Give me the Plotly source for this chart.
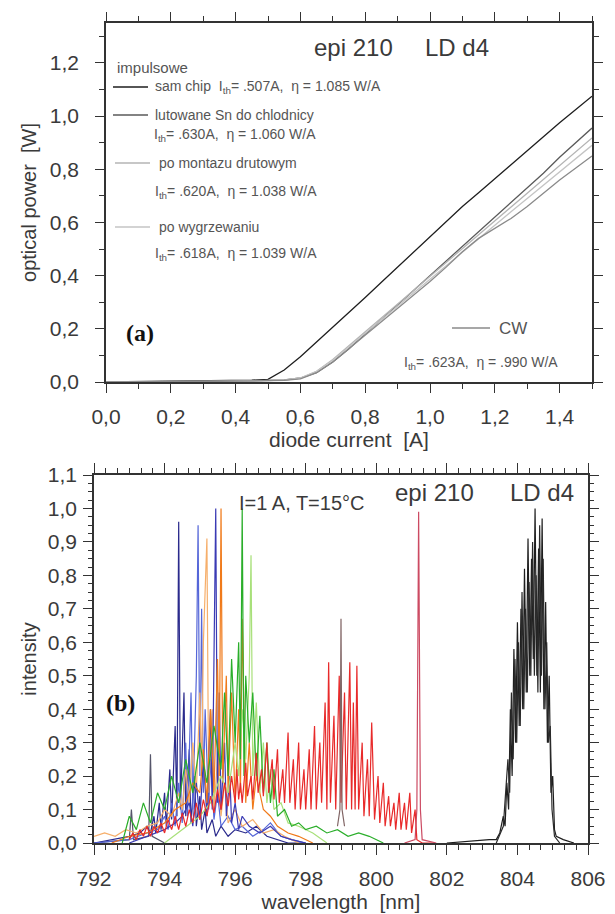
import plotly.graph_objects as go

# ---------------- DATA: panel (a) L-I curves ----------------
current_A = [0.0, 0.1, 0.2, 0.3, 0.4, 0.45, 0.5, 0.55, 0.6, 0.65, 0.7, 0.75, 0.8, 0.85,
             0.9, 0.95, 1.0, 1.05, 1.1, 1.15, 1.2, 1.25, 1.3, 1.35, 1.4, 1.45, 1.5]
p_sam_chip = [0.0, 0.001, 0.002, 0.003, 0.005, 0.007, 0.010, 0.045, 0.095, 0.150, 0.205, 0.262,
              0.318, 0.375, 0.432, 0.490, 0.548, 0.605, 0.660, 0.712, 0.765, 0.818, 0.870,
              0.922, 0.975, 1.025, 1.075]
p_lutowane = [0.0, 0.0, 0.001, 0.002, 0.003, 0.004, 0.005, 0.008, 0.015, 0.035, 0.075, 0.125,
              0.180, 0.235, 0.290, 0.345, 0.400, 0.455, 0.510, 0.565, 0.620, 0.675, 0.730,
              0.785, 0.845, 0.900, 0.955]
p_montaz = [0.0, 0.0, 0.001, 0.002, 0.003, 0.004, 0.005, 0.007, 0.015, 0.040, 0.085, 0.137,
            0.189, 0.241, 0.293, 0.345, 0.397, 0.449, 0.501, 0.553, 0.605, 0.657, 0.709,
            0.761, 0.813, 0.866, 0.918]
p_wygrzew = [0.0, 0.0, 0.001, 0.002, 0.003, 0.004, 0.005, 0.007, 0.015, 0.040, 0.082, 0.132,
             0.183, 0.234, 0.285, 0.336, 0.387, 0.438, 0.490, 0.540, 0.590, 0.640, 0.690,
             0.740, 0.790, 0.840, 0.890]
p_cw = [0.0, 0.0, 0.001, 0.002, 0.003, 0.004, 0.005, 0.006, 0.012, 0.035, 0.075, 0.125,
        0.175, 0.225, 0.275, 0.325, 0.378, 0.432, 0.490, 0.540, 0.578, 0.615, 0.660,
        0.710, 0.760, 0.805, 0.850]

xa_tickvals = [0.0, 0.2, 0.4, 0.6, 0.8, 1.0, 1.2, 1.4]
xa_ticktext = ["0,0", "0,2", "0,4", "0,6", "0,8", "1,0", "1,2", "1,4"]
ya_tickvals = [0.0, 0.2, 0.4, 0.6, 0.8, 1.0, 1.2]
ya_ticktext = ["0,0", "0,2", "0,4", "0,6", "0,8", "1,0", "1,2"]

# ---------------- DATA: panel (b) spectra ----------------
wl_gray = [792.0, 793.0, 793.06, 793.12, 793.55, 793.6, 793.65, 794.0]
in_gray = [0.0, 0.01, 0.10, 0.01, 0.02, 0.265, 0.02, 0.0]

wl_navy = [792.0, 792.5, 793.0, 793.3, 793.5, 793.6, 793.7, 793.75, 793.85, 793.9, 794.0, 794.05,
           794.15, 794.2, 794.3, 794.35, 794.4, 794.45, 794.55, 794.6, 794.7, 794.75, 794.85,
           794.9, 795.0, 795.05, 795.15, 795.2, 795.35, 795.45, 795.6, 795.8, 796.0, 796.3,
           796.6, 796.9, 797.2, 797.5, 798.0]
in_navy = [0.0, 0.01, 0.02, 0.03, 0.05, 0.03, 0.08, 0.03, 0.12, 0.04, 0.15, 0.05, 0.22, 0.07,
           0.35, 0.08, 0.96, 0.1, 0.45, 0.08, 0.28, 0.06, 0.2, 0.05, 0.14, 0.04, 0.1, 0.03,
           0.07, 0.02, 0.05, 0.02, 0.04, 0.03, 0.05, 0.02, 0.01, 0.0, 0.0]

wl_blue = [792.0, 793.0, 793.5, 793.8, 794.0, 794.1, 794.2, 794.3, 794.4, 794.5, 794.6, 794.65,
           794.75, 794.8, 794.9, 794.95, 795.0, 795.05, 795.1, 795.15, 795.25, 795.3, 795.4,
           795.5, 795.6, 795.8, 796.0, 796.2, 796.5, 796.8, 797.0, 797.3, 797.6, 798.0]
in_blue = [0.0, 0.01, 0.03, 0.04, 0.08, 0.04, 0.12, 0.05, 0.18, 0.06, 0.3, 0.08, 0.45, 0.1,
           0.5, 0.95, 0.2, 0.7, 0.15, 0.4, 0.1, 0.25, 0.07, 0.15, 0.05, 0.08, 0.04, 0.05, 0.02,
           0.04, 0.06, 0.02, 0.01, 0.0]

wl_peach = [792.0, 792.3, 792.6, 792.9, 793.2, 793.5, 793.8, 794.0, 794.2, 794.4, 794.5, 794.6,
            794.7, 794.8, 794.9, 795.0, 795.05, 795.1, 795.2, 795.25, 795.35, 795.4, 795.5,
            795.6, 795.7, 795.8, 796.0, 796.2, 796.5, 796.8, 797.1, 797.4, 797.8]
in_peach = [0.02, 0.03, 0.02, 0.04, 0.03, 0.05, 0.06, 0.1, 0.08, 0.15, 0.1, 0.22, 0.12, 0.3,
            0.15, 0.45, 0.2, 0.6, 0.91, 0.15, 0.4, 0.1, 0.25, 0.08, 0.18, 0.06, 0.1, 0.05,
            0.07, 0.03, 0.04, 0.02, 0.0]

wl_blue2 = [793.0, 793.5, 794.0, 794.3, 794.5, 794.7, 794.8, 794.9, 795.0, 795.1, 795.2, 795.3,
            795.35, 795.4, 795.45, 795.5, 795.55, 795.6, 795.7, 795.75, 795.85, 795.9, 796.0,
            796.1, 796.2, 796.4, 796.7, 797.0, 797.3, 797.6, 798.0]
in_blue2 = [0.0, 0.02, 0.04, 0.06, 0.08, 0.12, 0.05, 0.18, 0.07, 0.25, 0.08, 0.4, 0.1, 0.55,
            1.0, 0.12, 0.45, 0.1, 0.3, 0.08, 0.2, 0.06, 0.12, 0.04, 0.08, 0.05, 0.03, 0.05,
            0.02, 0.01, 0.0]

wl_orange = [792.5, 793.0, 793.5, 794.0, 794.3, 794.6, 794.8, 795.0, 795.1, 795.2, 795.3, 795.4,
             795.5, 795.55, 795.6, 795.65, 795.75, 795.8, 795.9, 796.0, 796.1, 796.15, 796.2,
             796.3, 796.4, 796.5, 796.6, 796.8, 797.0, 797.2, 797.5, 797.8, 798.2]
in_orange = [0.0, 0.02, 0.03, 0.06, 0.1, 0.12, 0.18, 0.15, 0.28, 0.12, 0.4, 0.15, 0.55, 0.2,
             1.0, 0.18, 0.5, 0.15, 0.45, 0.12, 0.4, 0.15, 0.67, 0.12, 0.3, 0.1, 0.2, 0.1, 0.08,
             0.05, 0.03, 0.02, 0.0]

wl_lgreen = [794.0, 794.5, 795.0, 795.3, 795.6, 795.8, 796.0, 796.1, 796.2, 796.3, 796.4,
             796.45, 796.5, 796.6, 796.7, 796.8, 796.9, 797.0, 797.1, 797.3, 797.5, 797.8,
             798.2, 798.6]
in_lgreen = [0.0, 0.04, 0.08, 0.12, 0.2, 0.15, 0.3, 0.2, 0.4, 0.25, 0.5, 0.86, 0.2, 0.42, 0.15,
             0.3, 0.12, 0.22, 0.1, 0.12, 0.06, 0.05, 0.03, 0.0]

wl_green = [792.8, 793.0, 793.2, 793.4, 793.6, 793.8, 794.0, 794.2, 794.4, 794.6, 794.8, 795.0,
            795.2, 795.4, 795.6, 795.7, 795.8, 795.9, 796.0, 796.1, 796.15, 796.2, 796.25,
            796.3, 796.4, 796.5, 796.6, 796.7, 796.8, 796.9, 797.0, 797.1, 797.2, 797.4,
            797.6, 797.8, 798.0, 798.3, 798.6, 798.9, 799.2, 799.5, 799.8, 800.2]
in_green = [0.0, 0.08, 0.04, 0.12, 0.06, 0.15, 0.1, 0.2, 0.12, 0.25, 0.15, 0.3, 0.18, 0.35,
            0.22, 0.45, 0.2, 0.55, 0.3, 0.6, 0.25, 1.0, 0.2, 0.5, 0.3, 0.45, 0.2, 0.38, 0.15,
            0.3, 0.12, 0.22, 0.08, 0.1, 0.05, 0.06, 0.04, 0.05, 0.03, 0.04, 0.02, 0.03, 0.02,
            0.0]

wl_red = [793.0, 793.1, 793.2, 793.3, 793.4, 793.5, 793.6, 793.7, 793.8, 793.9, 794.0, 794.1,
          794.2, 794.3, 794.4, 794.5, 794.6, 794.7, 794.8, 794.9, 795.0, 795.1, 795.2, 795.3,
          795.4, 795.5, 795.6, 795.7, 795.8, 795.9, 796.0, 796.05, 796.1, 796.15, 796.2, 796.3,
          796.35, 796.45, 796.5, 796.6, 796.65, 796.75, 796.8, 796.9, 796.95, 797.05, 797.1,
          797.2, 797.25, 797.35, 797.4, 797.5, 797.55, 797.65, 797.7, 797.8, 797.85, 797.95,
          798.0, 798.1, 798.15, 798.25, 798.3, 798.4, 798.45, 798.55, 798.6, 798.65, 798.7,
          798.8, 798.85, 798.95, 799.0, 799.1, 799.15, 799.25, 799.3, 799.35, 799.4, 799.45,
          799.5, 799.6, 799.65, 799.75, 799.8, 799.87, 799.95, 800.05, 800.1, 800.2, 800.25,
          800.35, 800.4, 800.5, 800.55, 800.65, 800.7, 800.8, 800.85, 800.95, 801.0, 801.1,
          801.15, 801.3, 801.6]
in_red = [0.01, 0.03, 0.01, 0.04, 0.02, 0.05, 0.02, 0.05, 0.03, 0.06, 0.03, 0.07, 0.04, 0.08,
          0.04, 0.09, 0.05, 0.1, 0.06, 0.12, 0.07, 0.13, 0.08, 0.14, 0.09, 0.16, 0.1, 0.18,
          0.11, 0.2, 0.12, 0.22, 0.13, 0.18, 0.12, 0.24, 0.14, 0.2, 0.13, 0.27, 0.15, 0.22,
          0.14, 0.3, 0.15, 0.25, 0.13, 0.28, 0.12, 0.22, 0.12, 0.33, 0.12, 0.25, 0.1, 0.3, 0.1,
          0.22, 0.1, 0.28, 0.1, 0.35, 0.1, 0.3, 0.12, 0.42, 0.1, 0.54, 0.12, 0.38, 0.1, 0.5,
          0.12, 0.45, 0.1, 0.54, 0.1, 0.42, 0.1, 0.53, 0.1, 0.3, 0.08, 0.25, 0.08, 0.36, 0.07,
          0.2, 0.06, 0.18, 0.05, 0.14, 0.05, 0.12, 0.04, 0.15, 0.04, 0.12, 0.04, 0.15, 0.03,
          0.1, 0.01, 0.0, 0.0]

wl_brown = [798.9, 798.97, 799.0, 799.03, 799.1]
in_brown = [0.05, 0.1, 0.67, 0.1, 0.05]

wl_rose = [800.8, 801.1, 801.15, 801.2, 801.25, 801.3, 801.7]
in_rose = [0.0, 0.01, 0.1, 0.99, 0.1, 0.01, 0.0]

wl_black = [802.0, 803.0, 803.2, 803.4, 803.5, 803.6, 803.65, 803.7, 803.75, 803.8, 803.85,
            803.9, 803.95, 804.0, 804.05, 804.1, 804.15, 804.2, 804.25, 804.3, 804.35, 804.4,
            804.45, 804.5, 804.55, 804.6, 804.65, 804.7, 804.75, 804.8, 804.85, 804.9, 804.95,
            805.0, 805.05, 805.1, 805.3, 805.6]
in_black = [0.0, 0.01, 0.01, 0.01, 0.03, 0.08, 0.05, 0.18, 0.1, 0.4, 0.2, 0.58, 0.3, 0.66, 0.35,
            0.7, 0.4, 0.82, 0.45, 0.91, 0.5, 0.85, 0.55, 1.0, 0.5, 0.88, 0.45, 0.97, 0.4, 0.72,
            0.3, 0.5, 0.15, 0.2, 0.04, 0.02, 0.01, 0.0]

wl_black2 = [803.4, 803.6, 803.73, 803.78, 803.83, 803.88, 803.93, 803.98, 804.03, 804.08,
             804.13, 804.18, 804.23, 804.28, 804.33, 804.38, 804.43, 804.48, 804.53, 804.58,
             804.63, 804.68, 804.73, 804.78, 804.83, 804.88, 804.93, 804.98, 805.05, 805.2]
in_black2 = [0.0, 0.05, 0.25, 0.15, 0.45, 0.25, 0.55, 0.3, 0.6, 0.35, 0.75, 0.4, 0.7, 0.45,
             0.78, 0.5, 0.9, 0.5, 0.8, 0.45, 0.95, 0.5, 0.85, 0.4, 0.6, 0.3, 0.35, 0.1, 0.02,
             0.0]

xb_tickvals = [792, 794, 796, 798, 800, 802, 804, 806]
xb_ticktext = ["792", "794", "796", "798", "800", "802", "804", "806"]
yb_tickvals = [0.0, 0.1, 0.2, 0.3, 0.4, 0.5, 0.6, 0.7, 0.8, 0.9, 1.0, 1.1]
yb_ticktext = ["0,0", "0,1", "0,2", "0,3", "0,4", "0,5", "0,6", "0,7", "0,8", "0,9", "1,0", "1,1"]

# ---------------- FIGURE ----------------
# the page body adds an 8 px margin, so the figure occupies 8..615 x 8..914
OFF = 8
W, H = 615 - OFF, 914 - OFF


def px(x):
    return (x - OFF) / W


def py(y):
    return 1 - (y - OFF) / H


FONT = "Liberation Sans, Arial, sans-serif"
AX = "#333333"
TXT = "#3a3a3a"

fig = go.Figure()

li_series = [
    ("sam chip", p_sam_chip, "#1e1e1e"),
    ("lutowane", p_lutowane, "#5a5a5a"),
    ("montaz", p_montaz, "#b4b4b4"),
    ("wygrzewanie", p_wygrzew, "#c4c4c4"),
    ("CW", p_cw, "#8a8a8a"),
]
for name, vals, col in li_series:
    fig.add_trace(go.Scatter(x=current_A, y=vals, mode="lines", name=name,
                             line=dict(color=col, width=1.3), xaxis="x", yaxis="y",
                             showlegend=False))

spectra = [
    (wl_gray, in_gray, "#55556a"),
    (wl_navy, in_navy, "#2a2a8c"),
    (wl_blue, in_blue, "#5566d8"),
    (wl_peach, in_peach, "#f6ae6a"),
    (wl_blue2, in_blue2, "#3a3ab4"),
    (wl_orange, in_orange, "#f07a1a"),
    (wl_lgreen, in_lgreen, "#a8e07a"),
    (wl_green, in_green, "#2aae2a"),
    (wl_red, in_red, "#e82a2a"),
    (wl_brown, in_brown, "#806464"),
    (wl_rose, in_rose, "#cc4a62"),
    (wl_black, in_black, "#1e1e1e"),
    (wl_black2, in_black2, "#2a2a2a"),
]
for wl, inten, col in spectra:
    fig.add_trace(go.Scatter(x=wl, y=inten, mode="lines", line=dict(color=col, width=1.2),
                             xaxis="x2", yaxis="y2", showlegend=False))

tickfont = dict(family=FONT, size=21, color=TXT)
common = dict(showline=True, linecolor=AX, linewidth=1.6, mirror="ticks", ticks="outside",
              tickcolor=AX, tickwidth=1.4, showgrid=False, zeroline=False, tickfont=tickfont,
              automargin=False)

fig.update_layout(
    width=W, height=H,
    margin=dict(l=0, r=0, t=0, b=0, autoexpand=False),
    paper_bgcolor="white", plot_bgcolor="white",
    showlegend=False,
    xaxis=dict(domain=[px(106), px(592)], anchor="y", range=[0, 1.5],
               tickmode="array", tickvals=xa_tickvals, ticktext=xa_ticktext, ticklen=9,
               ticklabelstandoff=6,
               minor=dict(tickmode="linear", tick0=0, dtick=0.1, ticklen=5, ticks="outside",
                          tickcolor=AX),
               title=dict(text="diode current  [A]", font=dict(family=FONT, size=21, color=TXT),
                          standoff=4),
               **common),
    yaxis=dict(domain=[py(382), py(23)], anchor="x", range=[0, 1.35],
               tickmode="array", tickvals=ya_tickvals, ticktext=ya_ticktext, ticklen=9,
               ticklabelstandoff=12,
               minor=dict(tickmode="linear", tick0=0, dtick=0.1, ticklen=5, ticks="outside",
                          tickcolor=AX),
               title=dict(text="optical power  [W]", font=dict(family=FONT, size=20, color=TXT),
                          standoff=8),
               **common),
    xaxis2=dict(domain=[px(94), px(588)], anchor="y2", range=[792, 806],
                tickmode="array", tickvals=xb_tickvals, ticktext=xb_ticktext, ticklen=10,
                ticklabelstandoff=6,
                minor=dict(tickmode="linear", tick0=792, dtick=1 / 3, ticklen=5,
                           ticks="outside", tickcolor=AX),
                title=dict(text="wavelength  [nm]", font=dict(family=FONT, size=21, color=TXT),
                           standoff=2),
                **common),
    yaxis2=dict(domain=[py(843), py(475)], anchor="x2", range=[0, 1.1],
                tickmode="array", tickvals=yb_tickvals, ticktext=yb_ticktext, ticklen=9,
                ticklabelstandoff=2,
                minor=dict(tickmode="linear", tick0=0, dtick=0.025, ticklen=4,
                           ticks="outside", tickcolor=AX),
                title=dict(text="intensity", font=dict(family=FONT, size=20, color=TXT),
                           standoff=6),
                **common),
)

ann = []


def add_text(text, x, y, size, color=TXT, family=FONT, anchor="left"):
    ann.append(dict(text=text, x=px(x), y=py(y), xref="paper", yref="paper",
                    xanchor=anchor, yanchor="middle", showarrow=False,
                    font=dict(family=family, size=size, color=color)))


LEG = "#555555"
add_text("epi 210", 312, 47, 24)
add_text("LD d4", 423, 47, 24)
add_text("impulsowe", 115, 67, 15, LEG)
add_text("sam chip  I<sub>th</sub>= .507A,  η = 1.085 W/A", 153, 87, 14, LEG)
add_text("lutowane Sn do chlodnicy", 153, 115, 14, LEG)
add_text("I<sub>th</sub>= .630A,  η = 1.060 W/A", 152, 135, 14, LEG)
add_text("po montazu drutowym", 157, 163, 14, LEG)
add_text("I<sub>th</sub>= .620A,  η = 1.038 W/A", 153, 192, 14, LEG)
add_text("po wygrzewaniu", 157, 227, 14, LEG)
add_text("I<sub>th</sub>= .618A,  η = 1.039 W/A", 153, 254, 14, LEG)
add_text("CW", 497, 328, 17, LEG)
add_text("I<sub>th</sub>= .623A,  η = .990 W/A", 402, 363, 14, LEG)
add_text("<b>(a)</b>", 124, 333, 24, "#111111", "Liberation Serif, Times New Roman, serif")

add_text("I=1 A, T=15°C", 237, 503, 20)
add_text("epi 210", 393, 493, 24)
add_text("LD d4", 508, 493, 24)
add_text("<b>(b)</b>", 104, 703, 24, "#111111", "Liberation Serif, Times New Roman, serif")

fig.update_layout(annotations=ann)

shapes = []
for (x0, x1, y, col) in [(113, 148, 87, "#1e1e1e"), (113, 148, 115, "#5a5a5a"),
                         (115, 150, 163, "#b4b4b4"), (115, 150, 227, "#c4c4c4"),
                         (452, 490, 328, "#8a8a8a")]:
    shapes.append(dict(type="line", xref="paper", yref="paper", x0=px(x0), x1=px(x1),
                       y0=py(y), y1=py(y), line=dict(color=col, width=1.3)))
fig.update_layout(shapes=shapes)

fig.write_html("out.html")
